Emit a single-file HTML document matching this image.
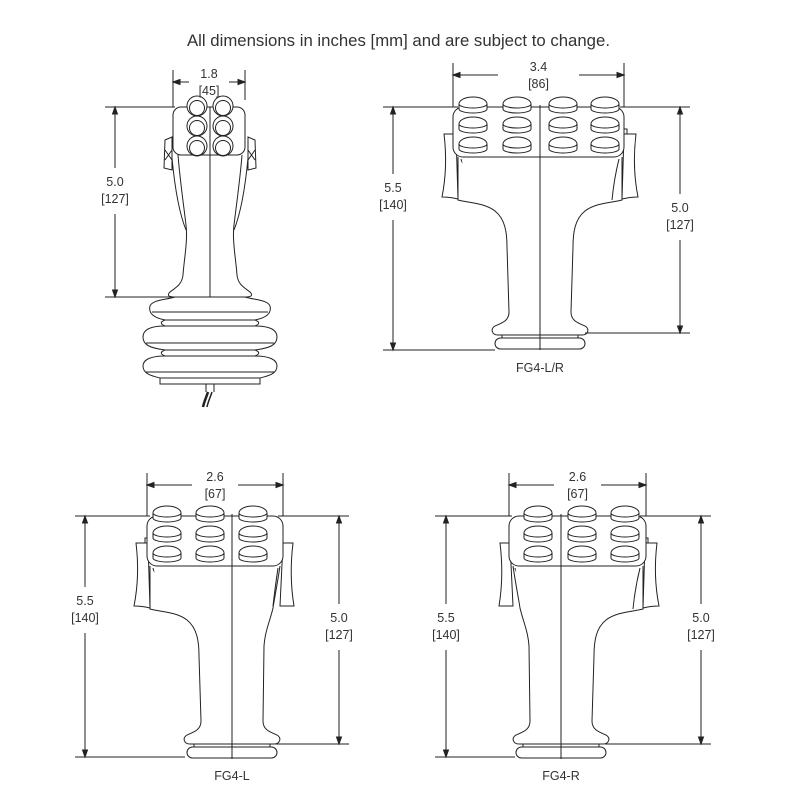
<!DOCTYPE html>
<html><head><meta charset="utf-8"><style>
html,body{margin:0;padding:0;background:#fff;width:800px;height:800px;overflow:hidden}
svg{display:block}
text{font-family:"Liberation Sans",sans-serif;fill:#333}
</style></head><body>
<svg id="s" width="800" height="800" viewBox="0 0 800 800" xmlns="http://www.w3.org/2000/svg">
<text x="187" y="46" font-size="17" textLength="423" lengthAdjust="spacingAndGlyphs" fill="#555">All dimensions in inches [mm] and are subject to change.</text>
<g id="g" fill="none" stroke="#222" stroke-width="1"></g>
<g id="t" font-size="12.5" text-anchor="middle"></g>
</svg>
<script>
var G=document.getElementById('g'),T=document.getElementById('t'),out='',tx='';
function P(d,extra){out+='<path d="'+d+'" '+(extra||'')+'/>';}
function L(x1,y1,x2,y2){out+='<line x1="'+x1+'" y1="'+y1+'" x2="'+x2+'" y2="'+y2+'"/>';}
function txt(x,y,s){tx+='<text x="'+x+'" y="'+y+'">'+s+'</text>';}
function arrow(x,y,dir){
 var a=7,b=2.5,d;
 if(dir=='l')d='M'+x+','+y+' l'+a+','+(-b)+' v'+(2*b)+'z';
 if(dir=='r')d='M'+x+','+y+' l'+(-a)+','+(-b)+' v'+(2*b)+'z';
 if(dir=='u')d='M'+x+','+y+' l'+(-b)+','+a+' h'+(2*b)+'z';
 if(dir=='d')d='M'+x+','+y+' l'+(-b)+','+(-a)+' h'+(2*b)+'z';
 P(d,'fill="#222"');
}
function hdim(x1,x2,y,t1,t2,ext1,ext2){
 var m=(x1+x2)/2,g=20;
 L(x1,y,Math.min(m-g,x1+45),y);L(Math.max(m+g,x2-45),y,x2,y);
 arrow(x1,y,'l');arrow(x2,y,'r');
 L(x1,y-12,x1,ext1);L(x2,y-12,x2,ext2);
 txt(m,y-4,t1);txt(m,y+13,t2);
}
function vdim(x,y1,y2,ty,t1,t2){
 L(x,y1,x,ty-18);L(x,ty+28,x,y2);
 arrow(x,y1,'u');arrow(x,y2,'d');
 txt(x,ty,t1);txt(x,ty+17,t2);
}
function button(x,y){
 P('M'+(x-14)+','+y+' A14,7 0 0 1 '+(x+14)+','+y+' V'+(y+5)+' A14,4 0 0 1 '+(x-14)+','+(y+5)+' Z','fill="#fff"');
 P('M'+(x-14)+','+y+' A14,4 0 0 0 '+(x+14)+','+y);
}
function side(s,wide){
 function p(x,y){return (s*x)+','+y;}
 var d;
 if(wide){
  d='M'+p(-82,50)+' L'+p(-82,93)+' C'+p(-70,96)+' '+p(-55,96)+' '+p(-45,104)+' C'+p(-35,112)+' '+p(-33,125)+' '+p(-33,140);
 } else {
  d='M'+p(-48,50)+' C'+p(-45,70)+' '+p(-42,85)+' '+p(-41,92)+' C'+p(-38,105)+' '+p(-33,115)+' '+p(-32,130);
 }
 d+=' L'+p(-31,205)+' C'+p(-31,214)+' '+p(-38,216)+' '+p(-45,219)+' C'+p(-50,222)+' '+p(-48,228)+' '+p(-42,228);
 return d;
}
function wing(s,wide){
 function p(x,y){return (s*x)+','+y;}
 if(wide){
  P('M'+p(-96,27)+' L'+p(-84,27)+' L'+p(-82,92)+' Q'+p(-90,90)+' '+p(-98,90)+' Q'+p(-92,60)+' '+p(-96,27)+' Z');
  P('M'+p(-82,22)+' L'+p(-87,22)+' L'+p(-87,27));
  P('M'+p(-79,52)+' Q'+p(-74,72)+' '+p(-72,93));
 } else {
  P('M'+p(-61,27)+' L'+p(-51,27)+' L'+p(-48,90)+' Q'+p(-55,90)+' '+p(-62,90)+' Q'+p(-57,60)+' '+p(-61,27)+' Z');
  P('M'+p(-46,52)+' Q'+p(-43,72)+' '+p(-41,90));
 }
}
function grip(gx,y0,hl,hr,cols,leftWide,rightWide){
 var o='<g transform="translate('+gx+','+y0+')">';
 var save=out;out='';
 wing(1,leftWide);wing(-1,rightWide);
 P(side(1,leftWide)+' L42,228','fill="#fff"');
 P(side(-1,rightWide));
 L(-38,228,-38,231);L(38,228,38,231);
 out+='<rect x="-45" y="231" width="90" height="11" rx="5.5"/>';
 out+='<rect x="'+hl+'" y="0" width="'+(hr-hl)+'" height="50" rx="10" fill="#fff"/>';
 L(0,-2,0,243);
 cols.forEach(function(c){[-3,17,37].forEach(function(r){button(c,r);});});
 var inner=out;out=save+o+inner+'</g>';
}
// FG4-L/R
grip(540,107,-87,84,[-67,-23,23,65],true,true);
hdim(453,624,75,'3.4','[86]',107,107);
L(383,107,458,107);L(383,350,495,350);L(620,107,690,107);L(585,333,690,333);
vdim(393,107,350,192,'5.5','[140]');
vdim(680,107,333,212,'5.0','[127]');
txt(540,372,'FG4-L/R');
// FG4-L
grip(232,516,-85,51,[-65,-22,21],true,false);
hdim(147,283,485,'2.6','[67]',516,516);
L(75,516,150,516);L(75,757,185,757);L(278,516,349,516);L(275,744,349,744);
vdim(85,516,757,605,'5.5','[140]');
vdim(339,516,744,622,'5.0','[127]');
txt(232,780,'FG4-L');
// FG4-R
grip(561,516,-52,85,[-23,21,64],false,true);
hdim(509,646,485,'2.6','[67]',516,516);
L(435,516,512,516);L(435,757,515,757);L(640,516,711,516);L(605,744,711,744);
vdim(446,516,757,622,'5.5','[140]');
vdim(701,516,744,622,'5.0','[127]');
txt(561,780,'FG4-R');
// Top-left joystick
(function(){
 P('M175,297 C165,300 152,300 150,306 C148,314 155,318 165,320 C160,322 160,324 165,326 C150,326 143,330 143,337 C143,345 150,348 165,350 C160,352 160,354 165,356 C150,356 143,360 143,366 C143,374 152,376 160,378 L160,384 L260,384 L260,378 C268,376 277,374 277,366 C277,360 270,356 255,356 C260,354 260,352 255,350 C270,348 277,345 277,337 C277,330 270,326 255,326 C260,324 260,322 255,320 C265,318 272,314 270,306 C268,300 255,300 245,297 Z','fill="#fff"');
 L(152,312,268,312);L(165,320,255,320);L(165,326,255,326);L(146,343,274,343);L(165,350,255,350);L(165,356,255,356);L(146,372,274,372);L(160,378,260,378);
 L(206,384,206,392);L(214,384,214,392);
 P('M208,392 C206,398 204,402 203,407','stroke-width="2.5"');
 P('M212,392 C210,398 208,402 207,407','stroke-width="1.5"');
 P('M172,137 L165,140 L164,168 L172,170 Z M165,150 L172,160 M172,150 L165,160');
 P('M248,137 L255,140 L256,168 L248,170 Z M255,150 L248,160 M248,150 L255,160');
 P('M178,155 C180,180 183,200 186,225 C188,240 184,260 183,275 C182,285 175,288 170,292 C166,296 170,297 175,297 L245,297 C250,297 254,296 250,292 C245,288 238,285 237,275 C236,260 232,240 234,225 C237,200 240,180 242,155','fill="#fff"');
 P('M172,158 C175,190 180,215 186,230');P('M248,158 C245,190 240,215 234,230');
 out+='<rect x="173" y="107" width="72" height="48" rx="8" fill="#fff"/>';
 L(210,107,210,297);
 [[197,106],[223,106],[197,126],[223,126],[197,146],[223,146]].forEach(function(c){
  out+='<circle cx="'+c[0]+'" cy="'+c[1]+'" r="10" fill="#fff"/><circle cx="'+c[0]+'" cy="'+(c[1]+2)+'" r="7.5"/>';
 });
 hdim(173,245,82,'1.8','[45]',107,100);
 L(105,107,175,107);L(105,297,200,297);
 vdim(115,107,297,186,'5.0','[127]');
})();
G.innerHTML=out;T.innerHTML=tx;
</script>
</body></html>
